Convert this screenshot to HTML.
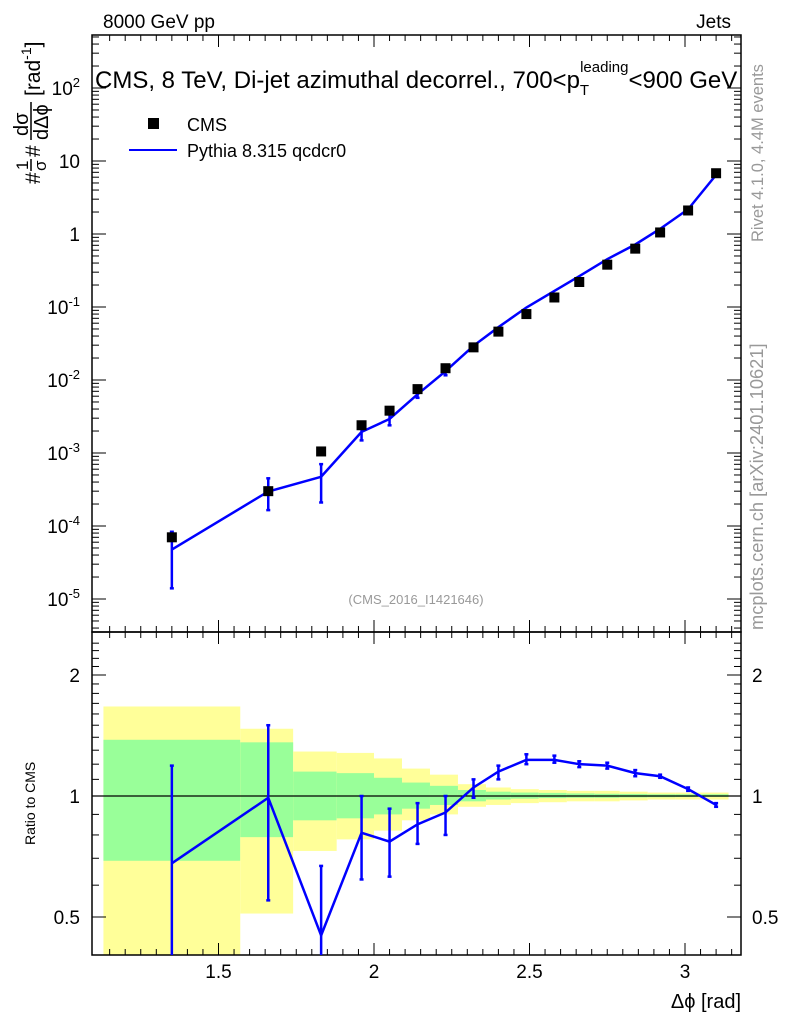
<!DOCTYPE html>
<html><head><meta charset="utf-8"><style>
body{margin:0;background:#fff;font-family:"Liberation Sans",sans-serif}
</style></head><body>
<svg id="c" width="786" height="1024" xmlns="http://www.w3.org/2000/svg" font-family="Liberation Sans, sans-serif"></svg>
<script>
const xs=[1.35,1.66,1.83,1.96,2.05,2.14,2.23,2.32,2.40,2.49,2.58,2.66,2.75,2.84,2.92,3.01,3.10];
const cms=[7e-5,3e-4,1.05e-3,2.4e-3,3.8e-3,7.5e-3,1.45e-2,2.8e-2,4.6e-2,8e-2,0.135,0.22,0.38,0.63,1.05,2.1,6.8];
const ratio=[0.68,0.99,0.45,0.81,0.77,0.85,0.91,1.05,1.15,1.23,1.23,1.20,1.19,1.14,1.12,1.04,0.95];
const ratioUp=[1.19,1.50,0.67,1.0,0.93,0.96,1.0,1.10,1.19,1.27,1.26,1.22,1.21,1.16,1.13,1.05,0.96];
const ratioDn=[0.2,0.55,0.2,0.62,0.63,0.76,0.80,0.99,1.10,1.20,1.21,1.18,1.17,1.12,1.11,1.03,0.94];
const binEdges=[1.13,1.57,1.74,1.88,2.0,2.09,2.18,2.27,2.36,2.44,2.53,2.62,2.71,2.79,2.88,2.97,3.05,3.14];
const yelUp=[1.67,1.47,1.29,1.28,1.24,1.17,1.13,1.07,1.05,1.04,1.035,1.03,1.03,1.025,1.02,1.02,1.02];
const yelDn=[0.3,0.51,0.73,0.78,0.82,0.87,0.90,0.94,0.95,0.96,0.965,0.97,0.97,0.975,0.98,0.98,0.98];
const grnUp=[1.38,1.36,1.15,1.14,1.11,1.08,1.06,1.035,1.025,1.02,1.018,1.015,1.013,1.012,1.01,1.01,1.01];
const grnDn=[0.69,0.79,0.87,0.88,0.9,0.93,0.95,0.97,0.98,0.985,0.988,0.99,0.99,0.992,0.993,0.994,0.995];
const yTicksMain=[2,1,0,-1,-2,-3,-4,-5];
const xTicks=[1.5,2,2.5,3];
const rTicks=[2,1,0.5];

const svg=document.getElementById('c');const NS='http://www.w3.org/2000/svg';
function el(t,a,p){const e=document.createElementNS(NS,t);for(const k in a)e.setAttribute(k,a[k]);(p||svg).appendChild(e);return e;}
const L=92,R=741,T=35,M=632,B=955;
const X=v=>218.5+(v-1.5)*311;
const Y=v=>234-73*Math.log10(v);
const YR=v=>796-121*Math.log2(v);
const clipY=y=>Math.max(M,Math.min(B,y));
for(let i=0;i<binEdges.length-1;i++){
 const x0=X(binEdges[i]),x1=X(binEdges[i+1]);
 const b=el('rect',{x:x0,y:clipY(YR(yelUp[i])),width:x1-x0,height:clipY(YR(yelDn[i]))-clipY(YR(yelUp[i])),fill:'#ffff99'});
 
 
 const g=el('rect',{x:x0,y:clipY(YR(grnUp[i])),width:x1-x0,height:clipY(YR(grnDn[i]))-clipY(YR(grnUp[i])),fill:'#99ff99'});
 
 
}
el('line',{x1:L,x2:R,y1:YR(1),y2:YR(1),stroke:'#000','stroke-width':1.3});
el('rect',{x:L,y:T,width:R-L,height:M-T,fill:'none',stroke:'#000','stroke-width':1.5});
el('rect',{x:L,y:M,width:R-L,height:B-M,fill:'none',stroke:'#000','stroke-width':1.5});
for(let v=1.15;v<3.18;v+=0.05){const x=X(v);const major=Math.abs(v*2-Math.round(v*2))<0.01;const h=major?12:6;
 [[T,1],[M,1],[M,-1],[B,-1]].forEach(([y,s])=>el('line',{x1:x,x2:x,y1:y,y2:y+s*h,stroke:'#000'}));}
xTicks.forEach(v=>{const t=el('text',{x:X(v),y:978,'font-size':19,'text-anchor':'middle'});t.textContent=String(v);
 });
for(let d=-6;d<=2;d++){for(let m=1;m<10;m++){const y=Y(m*Math.pow(10,d));if(y<T||y>M)continue;const h=m==1?14:7;
 el('line',{x1:L,x2:L+h,y1:y,y2:y,stroke:'#000'});el('line',{x1:R,x2:R-h,y1:y,y2:y,stroke:'#000'});}}
yTicksMain.forEach(d=>{const t=el('text',{x:80,y:Y(Math.pow(10,d))+7,'font-size':19,'text-anchor':'end'});
 
 if(d==0)t.textContent='1';else if(d==1)t.textContent='10';else{t.textContent='10';const s=el('tspan',{dy:-8,'font-size':13},t);s.textContent=String(d);}});
for(let v=0.4;v<=2.5;v+=0.1){const y=YR(v);if(y<M||y>B)continue;const major=[0.5,1,2].some(u=>Math.abs(u-v)<1e-6);const h=major?14:7;
 el('line',{x1:L,x2:L+h,y1:y,y2:y,stroke:'#000'});el('line',{x1:R,x2:R-h,y1:y,y2:y,stroke:'#000'});}
rTicks.forEach(v=>{[[80,'end'],[752,'start']].forEach(([x,a])=>{const t=el('text',{x:x,y:YR(v)+7,'font-size':19,'text-anchor':a});t.textContent=String(v);
 });});
const mc=xs.map((x,i)=>cms[i]*ratio[i]);
const pl=el('polyline',{points:xs.map((x,i)=>X(x)+','+Y(mc[i])).join(' '),fill:'none',stroke:'#0000ff','stroke-width':2.5});

xs.forEach((x,i)=>{const up=mc[i]*ratioUp[i]/ratio[i],dn=mc[i]*ratioDn[i]/ratio[i];const y1=Math.max(T,Y(up)),y2=Math.min(M,Y(dn));
 if(y2-y1>4){el('line',{x1:X(x),x2:X(x),y1:y1,y2:y2,stroke:'#0000ff','stroke-width':2.5});
 el('line',{x1:X(x)-2,x2:X(x)+2,y1:y1,y2:y1,stroke:'#0000ff','stroke-width':2.5});el('line',{x1:X(x)-2,x2:X(x)+2,y1:y2,y2:y2,stroke:'#0000ff','stroke-width':2.5});}});
xs.forEach((x,i)=>{const r=el('rect',{x:X(x)-5,y:Y(cms[i])-5,width:10,height:10,fill:'#000'});
 });
const rl=el('polyline',{points:xs.map((x,i)=>X(x)+','+YR(ratio[i])).join(' '),fill:'none',stroke:'#0000ff','stroke-width':2.5});

xs.forEach((x,i)=>{const y1=clipY(YR(ratioUp[i])),y2=clipY(YR(ratioDn[i]));
 el('line',{x1:X(x),x2:X(x),y1:y1,y2:y2,stroke:'#0000ff','stroke-width':2.5});
 el('line',{x1:X(x)-2,x2:X(x)+2,y1:y1,y2:y1,stroke:'#0000ff','stroke-width':2.5});if(y2<B)el('line',{x1:X(x)-2,x2:X(x)+2,y1:y2,y2:y2,stroke:'#0000ff','stroke-width':2.5});});
</script>
<svg width="786" height="1024" style="position:absolute;left:0;top:0" font-family="Liberation Sans, sans-serif">
<text x="103" y="28" font-size="19">8000 GeV pp</text>
<text x="731" y="28" font-size="19" text-anchor="end">Jets</text>
<text x="95" y="88" font-size="24">CMS, 8 TeV, Di-jet azimuthal decorrel., 700&lt;p<tspan dy="7" font-size="15">T</tspan><tspan dy="-23" dx="-9" font-size="15">leading</tspan><tspan dy="16">&lt;900 GeV</tspan></text>
<rect x="148" y="118" width="11" height="11" fill="#000"/>
<text x="187" y="131" font-size="18">CMS</text>
<line x1="129" x2="177" y1="150" y2="150" stroke="#0000ff" stroke-width="2"/>
<text x="187" y="157" font-size="18">Pythia 8.315 qcdcr0</text>
<text x="416" y="604" font-size="13" fill="#999" text-anchor="middle">(CMS_2016_I1421646)</text>
<g transform="translate(40,184) rotate(-90)" font-size="21">
<text x="0" y="0">#</text>
<text x="14" y="-12" font-size="17">1</text>
<line x1="13" x2="25" y1="-9" y2="-9" stroke="#000" stroke-width="1.5"/>
<text x="13" y="6" font-size="17">σ</text>
<text x="27" y="0">#</text>
<text x="48" y="-12" font-size="20">dσ</text>
<line x1="44" x2="82" y1="-9" y2="-9" stroke="#000" stroke-width="1.5"/>
<text x="44" y="8" font-size="20">dΔϕ</text>
<text x="88" y="0">[rad<tspan dy="-9" font-size="14">-1</tspan><tspan dy="9">]</tspan></text>
</g>
<text transform="translate(35,845) rotate(-90)" font-size="14">Ratio to CMS</text>
<text x="741" y="1008" font-size="20" text-anchor="end">Δϕ [rad]</text>
<text transform="translate(763,242) rotate(-90)" font-size="16.5" fill="#999">Rivet 4.1.0,  4.4M events</text>
<text transform="translate(763,630) rotate(-90)" font-size="18.3" fill="#999">mcplots.cern.ch [arXiv:2401.10621]</text>
</svg>
</body></html>
